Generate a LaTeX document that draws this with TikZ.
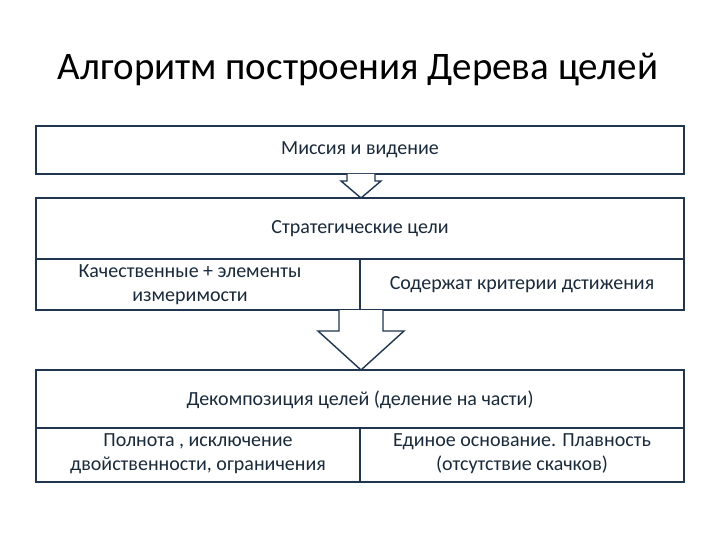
\documentclass[tikz,border=0pt]{standalone}
\usepackage{fontspec}
\setmainfont{Carlito}
\begin{document}
\begin{tikzpicture}[x=1pt,y=-1pt,
  frame/.style={draw=bx,line width=1.6pt,fill=white},
  txt/.style={font=\fontsize{20}{24}\selectfont,text=tx,align=center}]
\definecolor{bx}{HTML}{1F3550}
\definecolor{tx}{HTML}{1A2A3A}
\useasboundingbox (0,0) rectangle (720,540);
\node[font=\fontsize{39}{44}\selectfont,text=black] (title) at (358,70) {Алгоритм построения Дерева целей};
% box 1
\draw[frame] (36,126) rectangle (684,174);
\node[txt] (b1) at (360,150) {Миссия и видение};
% arrow 1
\draw[frame,line width=1.4pt] (347,174) -- (347,181) -- (341,181) -- (361,198) -- (381,181) -- (375,181) -- (375,174);
% box 2
\draw[frame] (36,198) rectangle (684,310);
\draw[bx,line width=1.2pt] (36,259) -- (684,259) (360,259) -- (360,310);
\node[txt] (b2) at (360,229) {Стратегические цели};
\node[txt] (b2a) at (190,285) {Качественные + элементы\\измеримости};
\node[txt] (b2b) at (522,285) {Содержат критерии дстижения};
% arrow 2
\draw[frame,line width=1.4pt] (339,310) -- (339,331) -- (318,331) -- (361,370) -- (404,331) -- (383,331) -- (383,310);
% box 3
\draw[frame] (36,370) rectangle (684,482);
\draw[bx,line width=1.2pt] (36,428) -- (684,428) (360,428) -- (360,482);
\draw[bx,line width=2pt] (36,482) -- (684,482);
\node[txt] (b3) at (360,400) {Декомпозиция целей (деление на части)};
\node[txt] (b3a) at (198,454) {Полнота , исключение\\двойственности, ограничения};
\node[txt] (b3b) at (522,454) {Единое основание. Плавность\\(отсутствие скачков)};
\end{tikzpicture}
\end{document}
